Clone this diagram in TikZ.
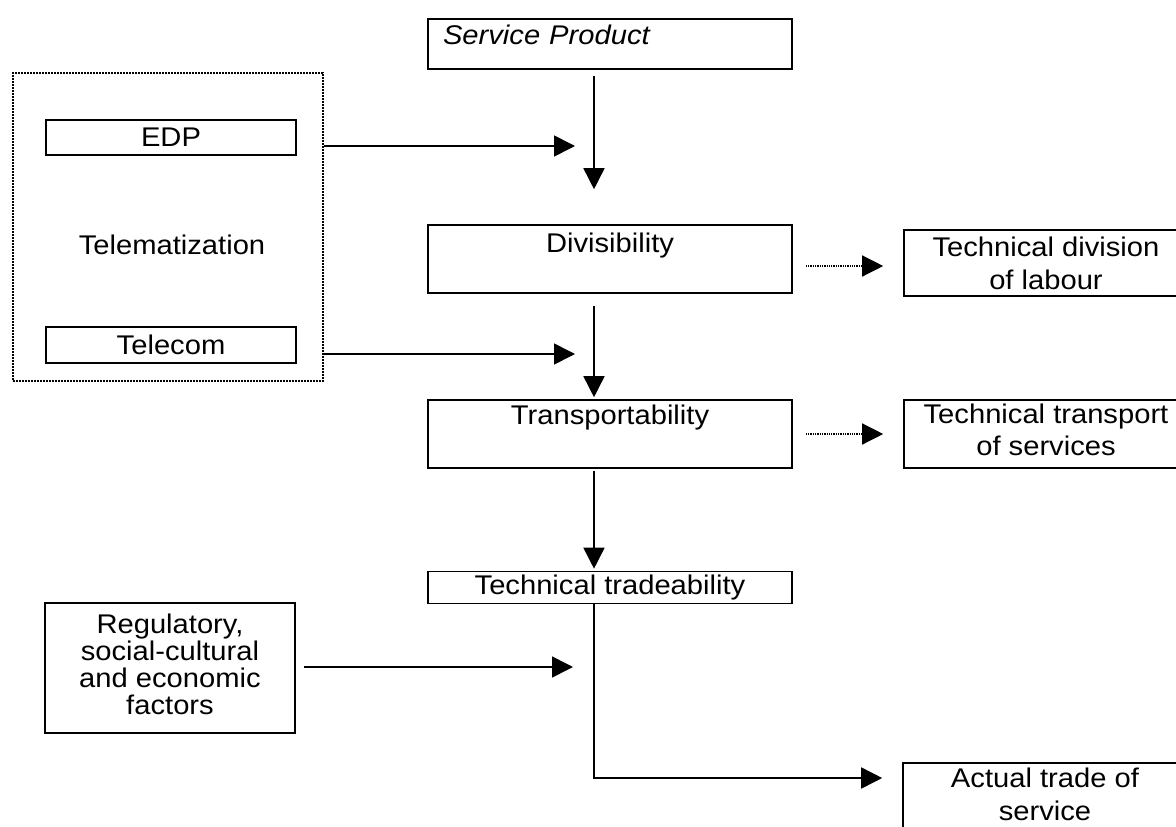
\documentclass[tikz,border=0pt]{standalone}
\usepackage{fontspec}
\setmainfont{Liberation Sans}[FakeStretch=1.08]
\usetikzlibrary{arrows.meta}
\tikzset{
  boxnode/.style = {draw=black, line width=1.6pt, inner sep=0pt, align=center,
    font=\fontsize{27}{32}\selectfont},
  groupnode/.style = {draw=black, line width=2pt, densely dotted, inner sep=0pt},
  textnode/.style = {inner sep=0pt, font=\fontsize{27}{32}\selectfont},
  dotarrow/.style = {densely dotted, line width=1.3pt},
}

\begin{document}
\begin{tikzpicture}[->,>={Triangle[length=21pt,width=21pt]},line width=1.6pt,
    x=1pt,y=-1pt]
  \useasboundingbox (0,0) rectangle (1176,827);
  \coordinate (spine) at (594,0);

  % telematization group
  \node [groupnode, minimum width=310pt, minimum height=308pt] (group) at (168,227) {};
  \node [boxnode, minimum width=250pt, minimum height=35pt] (edp) at (171,137.5) {EDP};
  \node [textnode] (tele) at (172,245) {Telematization};
  \node [boxnode, minimum width=250pt, minimum height=36pt] (telecom) at (171,345) {Telecom};

  % main column
  \node [boxnode, minimum width=364pt, minimum height=50pt, align=left, inner xsep=15pt,
    text width=334pt, text height=25pt, text depth=25pt, font=\fontsize{27}{32}\selectfont\itshape]
    (service) at (610,44) {Service Product};
  \node [boxnode, minimum width=364pt, text height=27pt, text depth=41pt]
    (div) at (610,259) {Divisibility};
  \node [boxnode, minimum width=364pt, text height=24pt, text depth=44pt]
    (trans) at (610,434) {Transportability};
  \node [boxnode, minimum width=364pt, minimum height=32pt]
    (trade) at (610,587.5) {Technical tradeability};

  % right column
  \node [boxnode, minimum width=284pt, text height=59pt, text depth=7pt,
    font=\fontsize{27}{33}\selectfont]
    (labour) at (1046,263) {Technical division\\of labour};
  \node [boxnode, minimum width=284pt, text height=55pt, text depth=13pt]
    (services) at (1046,434) {Technical transport\\of services};
  \node [boxnode, minimum width=284pt, text height=57pt, text depth=11pt,
    font=\fontsize{27}{33}\selectfont]
    (actual) at (1045,797) {Actual trade of\\service};

  % left bottom
  \node [boxnode, minimum width=250pt, text height=111pt, text depth=19pt,
    font=\fontsize{27}{27}\selectfont]
    (reg) at (170,668) {Regulatory,\\social-cultural\\and economic\\factors};

  % arrows
  \coordinate (edptip) at (575,146);
  \coordinate (telecomtip) at (575,354);
  \coordinate (regtip) at (573,667);
  \coordinate (corner) at (594,778);

  \draw [shorten <=6pt, shorten >=35pt] (service.south -| spine) -- (div.north -| spine);
  \draw (edptip -| group.east) -- (edptip);
  \draw [shorten <=12pt, shorten >=2pt] (div.south -| spine) -- (trans.north -| spine);
  \draw (telecomtip -| group.east) -- (telecomtip);
  \draw [shorten <=2pt, shorten >=2pt] (trans.south -| spine) -- (trade.north -| spine);
  \draw [shorten <=8pt] (regtip -| reg.east) -- (regtip);
  \draw [shorten >=20pt] (trade.south -| corner) -- (corner) -- (corner -| actual.west);

  \draw [dotarrow, shorten <=13pt, shorten >=20pt] ([yshift=-7pt]div.east) -- ([yshift=-7pt]div.east -| labour.west);
  \draw [dotarrow, shorten <=13pt, shorten >=20pt] (trans.east) -- (services.west);
\end{tikzpicture}
\end{document}
